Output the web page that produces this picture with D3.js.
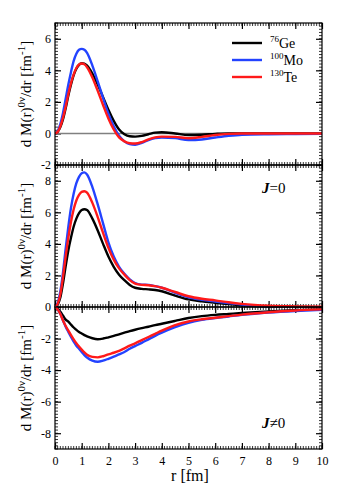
<!DOCTYPE html>
<html>
<head>
<meta charset="utf-8">
<script src="https://cdn.jsdelivr.net/npm/d3@7"></script>
<style>
  body { margin: 0; background: #fff; }
  text { font-family: "Liberation Serif", "Times New Roman", "DejaVu Serif", serif; }
</style>
</head>
<body>
<svg width="354" height="494"></svg>
<script>
// radial grid (fm) shared by all curves
var r = [0, 0.1, 0.2, 0.3, 0.4, 0.5, 0.6, 0.7, 0.8, 0.9, 1.0, 1.1, 1.2, 1.4, 1.6, 1.8, 2.0, 2.2, 2.4, 2.6, 2.8, 3.0,
         3.25, 3.5, 3.75, 4.0, 4.5, 5.0, 5.5, 6.0, 6.5, 7, 8, 9, 10];

// total
var geTot = [0, 0.1, 0.4, 0.9, 1.6, 2.4, 3.1, 3.7, 4.1, 4.35, 4.45, 4.43, 4.3, 3.8, 3.1, 2.3, 1.5, 0.8, 0.25, -0.05, -0.18, -0.2,
             -0.15, -0.05, 0.05, 0.08, 0.0, -0.1, -0.08, -0.03, 0, 0, 0, 0, 0];
var moTot = [0, 0.15, 0.6, 1.3, 2.2, 3.1, 3.9, 4.6, 5.05, 5.3, 5.36, 5.3, 5.1, 4.3, 3.3, 2.25, 1.25, 0.45, -0.15, -0.5, -0.68, -0.72,
             -0.6, -0.42, -0.3, -0.26, -0.3, -0.42, -0.38, -0.26, -0.15, -0.08, -0.05, -0.04, -0.03];
var teTot = [0, 0.1, 0.45, 1.0, 1.7, 2.5, 3.2, 3.75, 4.15, 4.37, 4.43, 4.38, 4.2, 3.55, 2.7, 1.8, 0.95, 0.25, -0.25, -0.5, -0.62, -0.64,
             -0.55, -0.38, -0.25, -0.2, -0.22, -0.3, -0.22, -0.1, -0.03, 0, 0, 0, 0];

// J = 0
var geJ0 = [0, 0.15, 0.6, 1.5, 2.6, 3.6, 4.4, 5.1, 5.6, 5.95, 6.15, 6.2, 6.15, 5.6, 4.85, 4.0, 3.2, 2.55, 2.05, 1.7, 1.4, 1.22,
            1.15, 1.12, 1.08, 1.0, 0.72, 0.48, 0.36, 0.27, 0.18, 0.1, 0.03, 0.0, -0.02];
var moJ0 = [0, 0.25, 1.0, 2.2, 3.7, 5.1, 6.3, 7.2, 7.85, 8.25, 8.48, 8.53, 8.4, 7.6, 6.5, 5.3, 4.1, 3.2, 2.55, 2.1, 1.75, 1.52,
            1.42, 1.4, 1.32, 1.22, 0.9, 0.62, 0.46, 0.35, 0.25, 0.15, 0.03, -0.02, -0.04];
var teJ0 = [0, 0.2, 0.8, 1.9, 3.2, 4.4, 5.4, 6.2, 6.75, 7.1, 7.3, 7.34, 7.25, 6.6, 5.7, 4.7, 3.75, 3.0, 2.45, 2.05, 1.7, 1.48,
            1.4, 1.38, 1.32, 1.22, 0.95, 0.68, 0.52, 0.42, 0.3, 0.2, 0.08, 0.04, 0.02];

// J != 0
var geJn = [0, -0.1, -0.3, -0.55, -0.8, -0.93, -1.12, -1.3, -1.45, -1.58, -1.68, -1.78, -1.86, -1.98, -2.04, -2.0, -1.92, -1.83, -1.73, -1.63, -1.53, -1.44,
            -1.34, -1.25, -1.15, -1.06, -0.88, -0.7, -0.58, -0.5, -0.44, -0.38, -0.28, -0.2, -0.15];
var moJn = [0, -0.15, -0.45, -0.85, -1.25, -1.58, -1.9, -2.2, -2.45, -2.65, -2.85, -3.05, -3.2, -3.4, -3.47, -3.4, -3.28, -3.15, -3.0, -2.85, -2.65, -2.48,
            -2.27, -2.05, -1.83, -1.63, -1.28, -1.0, -0.82, -0.7, -0.6, -0.5, -0.35, -0.25, -0.18];
var teJn = [0, -0.15, -0.45, -0.85, -1.2, -1.5, -1.78, -2.05, -2.3, -2.5, -2.7, -2.88, -3.02, -3.16, -3.19, -3.12, -3.0, -2.9, -2.78, -2.62, -2.45, -2.3,
            -2.1, -1.9, -1.7, -1.5, -1.15, -0.92, -0.78, -0.68, -0.58, -0.48, -0.33, -0.22, -0.15];

var nuclei = ["Ge", "Mo", "Te"];
var massNo = ["76", "100", "130"];
var colors = ["#000000", "#2343ff", "#ff1a1a"];

var xTicks = [0, 1, 2, 3, 4, 5, 6, 7, 8, 9, 10];

var panels = [
  { domain: [-2, 7], ticks: [-2, 0, 2, 4, 6], series: [geTot, moTot, teTot], zero: true },
  { domain: [0, 9], ticks: [0, 2, 4, 6, 8], series: [geJ0, moJ0, teJ0], tag: "=0" },
  { domain: [-9, 0], ticks: [-8, -6, -4, -2], series: [geJn, moJn, teJn], tag: "\u22600" }
];

var FONT = '"Liberation Serif", "Times New Roman", "DejaVu Serif", serif';
var plain = function(d) { return String(d); };   // keep hyphen-minus like the original
var svg = d3.select("svg");
var left = 55, right = 322, top0 = 23, panelH = 142;

var x = d3.scaleLinear().domain([0, 10]).range([left, right]);
var minorX = d3.range(0, 10.001, 0.1).map(function(d) { return +d.toFixed(1); });

panels.forEach(function(p, i) {
  var y0 = top0 + i * panelH, y1 = y0 + panelH;
  var y = d3.scaleLinear().domain(p.domain).range([y1, y0]);
  var g = svg.append("g");

  g.append("clipPath").attr("id", "clip" + i)
    .append("rect").attr("x", left).attr("y", y0 - 1).attr("width", right - left).attr("height", panelH + 2);

  var minorY = d3.range(p.domain[0], p.domain[1] + 0.001, 0.2).map(function(d) { return +d.toFixed(1); });

  // minor ticks
  [["bottom", y1, -3], ["top", y0, 3]].forEach(function(s) {
    g.selectAll(null).data(minorX).enter().append("line")
      .attr("x1", function(d) { return x(d); }).attr("x2", function(d) { return x(d); })
      .attr("y1", s[1]).attr("y2", s[1] + s[2])
      .attr("stroke", "#000").attr("stroke-width", 0.8);
  });
  [[left, 3], [right, -3]].forEach(function(s) {
    g.selectAll(null).data(minorY).enter().append("line")
      .attr("y1", function(d) { return y(d); }).attr("y2", function(d) { return y(d); })
      .attr("x1", s[0]).attr("x2", s[0] + s[1])
      .attr("stroke", "#000").attr("stroke-width", 0.8);
  });

  // major ticks via axes
  var axB = g.append("g").attr("transform", "translate(0," + y1 + ")")
    .call(d3.axisBottom(x).tickValues(xTicks).tickSize(-6).tickPadding(7)
      .tickFormat(i === 2 ? plain : ""));
  var axT = g.append("g").attr("transform", "translate(0," + y0 + ")")
    .call(d3.axisTop(x).tickValues(xTicks).tickSize(-6).tickFormat(""));
  var axL = g.append("g").attr("transform", "translate(" + left + ",0)")
    .call(d3.axisLeft(y).tickValues(p.ticks).tickSize(-6).tickPadding(4).tickFormat(plain));
  var axR = g.append("g").attr("transform", "translate(" + right + ",0)")
    .call(d3.axisRight(y).tickValues(p.ticks).tickSize(-6).tickFormat(""));
  [axB, axT, axL, axR].forEach(function(a) {
    a.attr("font-family", FONT);
    a.select(".domain").remove();
    a.selectAll("line").attr("stroke-width", 1.2);
    a.selectAll("text").attr("font-size", 12).attr("fill", "#000");
  });

  if (p.zero) {
    g.append("line").attr("x1", left).attr("x2", right).attr("y1", y(0)).attr("y2", y(0))
      .attr("stroke", "#808080").attr("stroke-width", 1.5);
  }

  var line = d3.line().x(function(d, k) { return x(r[k]); }).y(function(d) { return y(d); })
    .curve(d3.curveMonotoneX);
  p.series.forEach(function(s, k) {
    g.append("path").datum(s).attr("d", line)
      .attr("clip-path", "url(#clip" + i + ")")
      .attr("fill", "none").attr("stroke", colors[k]).attr("stroke-width", 2.4);
  });

  g.append("rect").attr("x", left).attr("y", y0).attr("width", right - left).attr("height", panelH)
    .attr("fill", "none").attr("stroke", "#000").attr("stroke-width", 1.2);

  // y label
  var lab = g.append("text")
    .attr("transform", "translate(31," + ((y0 + y1) / 2) + ") rotate(-90)")
    .attr("text-anchor", "middle").attr("font-size", 15);
  lab.append("tspan").text("d M(r)");
  lab.append("tspan").attr("dy", -6).attr("font-size", 11).text("0\u03bd");
  lab.append("tspan").attr("dy", 6).text("/dr [fm");
  lab.append("tspan").attr("dy", -6).attr("font-size", 11).text("-1");
  lab.append("tspan").attr("dy", 6).text("]");

  if (p.tag) {
    var t = g.append("text").attr("x", 262).attr("y", i === 1 ? 193 : 428).attr("font-size", 15);
    t.append("tspan").attr("font-weight", "bold").attr("font-style", "italic").text("J");
    t.append("tspan").text(p.tag);
  }
});

// legend
nuclei.forEach(function(n, k) {
  var ly = 43 + k * 17;
  svg.append("line").attr("x1", 232).attr("x2", 262).attr("y1", ly).attr("y2", ly)
    .attr("stroke", colors[k]).attr("stroke-width", 2.4);
  var t = svg.append("text").attr("x", 270).attr("y", ly + 5).attr("font-size", 14);
  t.append("tspan").attr("dy", -6).attr("font-size", 9).text(massNo[k]);
  t.append("tspan").attr("dy", 6).text(n);
});

svg.append("text").attr("x", 190).attr("y", 481).attr("text-anchor", "middle")
  .attr("font-size", 16).text("r [fm]");
</script>
</body>
</html>
